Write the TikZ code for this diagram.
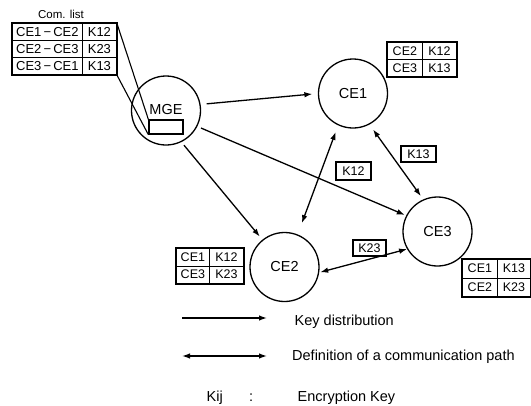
\documentclass[tikz,border=0pt]{standalone}
\usepackage{fontspec}
\setmainfont{Liberation Sans}
\usetikzlibrary{arrows.meta}

\begin{document}
\begin{tikzpicture}[x=1pt,y=-1pt,
  ent/.style={circle, draw, line width=1.3pt, minimum size=69pt, inner sep=0pt,
              font=\fontsize{14.5}{16}\selectfont},
  cell/.style={draw, line width=0.8pt, inner sep=0pt, anchor=north west,
               font=\fontsize{12.5}{14}\selectfont},
  listcell/.style={cell, minimum height=17pt, font=\fontsize{13}{14}\selectfont},
  frame/.style={draw, line width=1.5pt},
  keylab/.style={draw, line width=1.3pt, inner sep=0pt,
                 font=\fontsize{12.5}{14}\selectfont},
  flow/.style={line width=1.3pt, -{Latex[length=8pt,width=5.5pt]}},
  both/.style={line width=1.3pt, {Latex[length=8pt,width=5.5pt]}-{Latex[length=8pt,width=5.5pt]}},
  legend/.style={anchor=base west, inner sep=0pt, font=\fontsize{14.5}{16}\selectfont}
]
\useasboundingbox (0,0) rectangle (531,405);

% communication list kept by the MGE
\node[inner sep=0pt, font=\fontsize{11.5}{12}\selectfont] (cltitle) at (61,14.5) {Com. list};
\node[listcell, minimum width=70pt] (c11) at (12,23) {CE1\,−\,CE2};
\node[listcell, minimum width=34pt] (c12) at (82,23) {K12};
\node[listcell, minimum width=70pt] (c21) at (12,40) {CE2\,−\,CE3};
\node[listcell, minimum width=34pt] (c22) at (82,40) {K23};
\node[listcell, minimum width=70pt] (c31) at (12,57) {CE3\,−\,CE1};
\node[listcell, minimum width=34pt] (c32) at (82,57) {K13};
\draw[frame] (c11.north west) rectangle (c32.south east);

% entities
\node[ent] (mge) at (166,110.5) {};
\node[inner sep=0pt, font=\fontsize{14.5}{16}\selectfont] (mgelabel) at (166,110) {MGE};
\node[draw, line width=1.3pt, minimum width=34pt, minimum height=14pt, inner sep=0pt] (mgebox) at (166,127) {};
\node[ent] (ce1) at (353,93.5) {CE1};
\node[ent] (ce2) at (284.5,267) {CE2};
\node[ent] (ce3) at (437.5,231.5) {CE3};

% zoom lines from the list to the store inside the MGE
\draw[line width=1.1pt] (c12.north east) -- (mgebox.north west);
\draw[line width=1.1pt] (c32.south east) -- (mgebox.south west);

% key table of CE1
\node[cell, minimum width=35pt, minimum height=17pt] (a11) at (387,42) {CE2};
\node[cell, minimum width=34pt, minimum height=17pt] (a12) at (422,42) {K12};
\node[cell, minimum width=35pt, minimum height=17pt] (a21) at (387,59) {CE3};
\node[cell, minimum width=34pt, minimum height=17pt] (a22) at (422,59) {K13};
\draw[frame] (a11.north west) rectangle (a22.south east);

% key table of CE2
\node[cell, minimum width=33pt, minimum height=17.5pt] (b11) at (176,248) {CE1};
\node[cell, minimum width=34pt, minimum height=17.5pt] (b12) at (209,248) {K12};
\node[cell, minimum width=33pt, minimum height=17.5pt] (b21) at (176,265.5) {CE3};
\node[cell, minimum width=34pt, minimum height=17.5pt] (b22) at (209,265.5) {K23};
\draw[frame] (b11.north west) rectangle (b22.south east);

% key table of CE3
\node[cell, minimum width=35pt, minimum height=18.5pt] (d11) at (462,259) {CE1};
\node[cell, minimum width=33pt, minimum height=18.5pt] (d12) at (497,259) {K13};
\node[cell, minimum width=35pt, minimum height=18.5pt] (d21) at (462,277.5) {CE2};
\node[cell, minimum width=33pt, minimum height=18.5pt] (d22) at (497,277.5) {K23};
\draw[frame] (d11.north west) rectangle (d22.south east);

% key distribution
\draw[flow, shorten <=6pt, shorten >=5.5pt] (mge.10.6) -- (ce1.180);
\draw[flow, shorten <=4pt, shorten >=1.5pt] (mge.-27.6) -- (ce3.153);
\draw[flow, shorten <=4pt, shorten >=4pt] (mge.-64) -- (ce2.129);

% communication paths
\draw[both, shorten <=7pt, shorten >=12pt] (ce1.-115) -- (ce2.68);
\draw[both, shorten <=6pt, shorten >=4pt] (ce1.-62.5) -- (ce3.114);
\draw[both, shorten <=1pt, shorten >=0pt] (ce2.-9.6) -- (ce3.-150);

% keys of the paths
\node[keylab, minimum width=35pt, minimum height=18pt] (k12) at (353.5,171) {K12};
\node[keylab, minimum width=35pt, minimum height=16pt] (k13) at (418.5,154) {K13};
\node[keylab, minimum width=33pt, minimum height=16pt] (k23) at (369.5,248) {K23};

% legend
\coordinate (la) at (182,318);
\coordinate (lb) at (267,318);
\coordinate (lc) at (182,356);
\coordinate (ld) at (267,356);
\draw[flow] (la) -- (lb);
\draw[both] (lc) -- (ld);
\node[legend] (t1) at (294.5,325) {Key distribution};
\node[legend] (t2) at (292,360) {Definition of a communication path};
\node[legend] (t3) at (206.5,401) {Kij};
\node[legend] (t4) at (249,401) {:};
\node[legend] (t5) at (297.5,401) {Encryption Key};
\end{tikzpicture}
\end{document}
